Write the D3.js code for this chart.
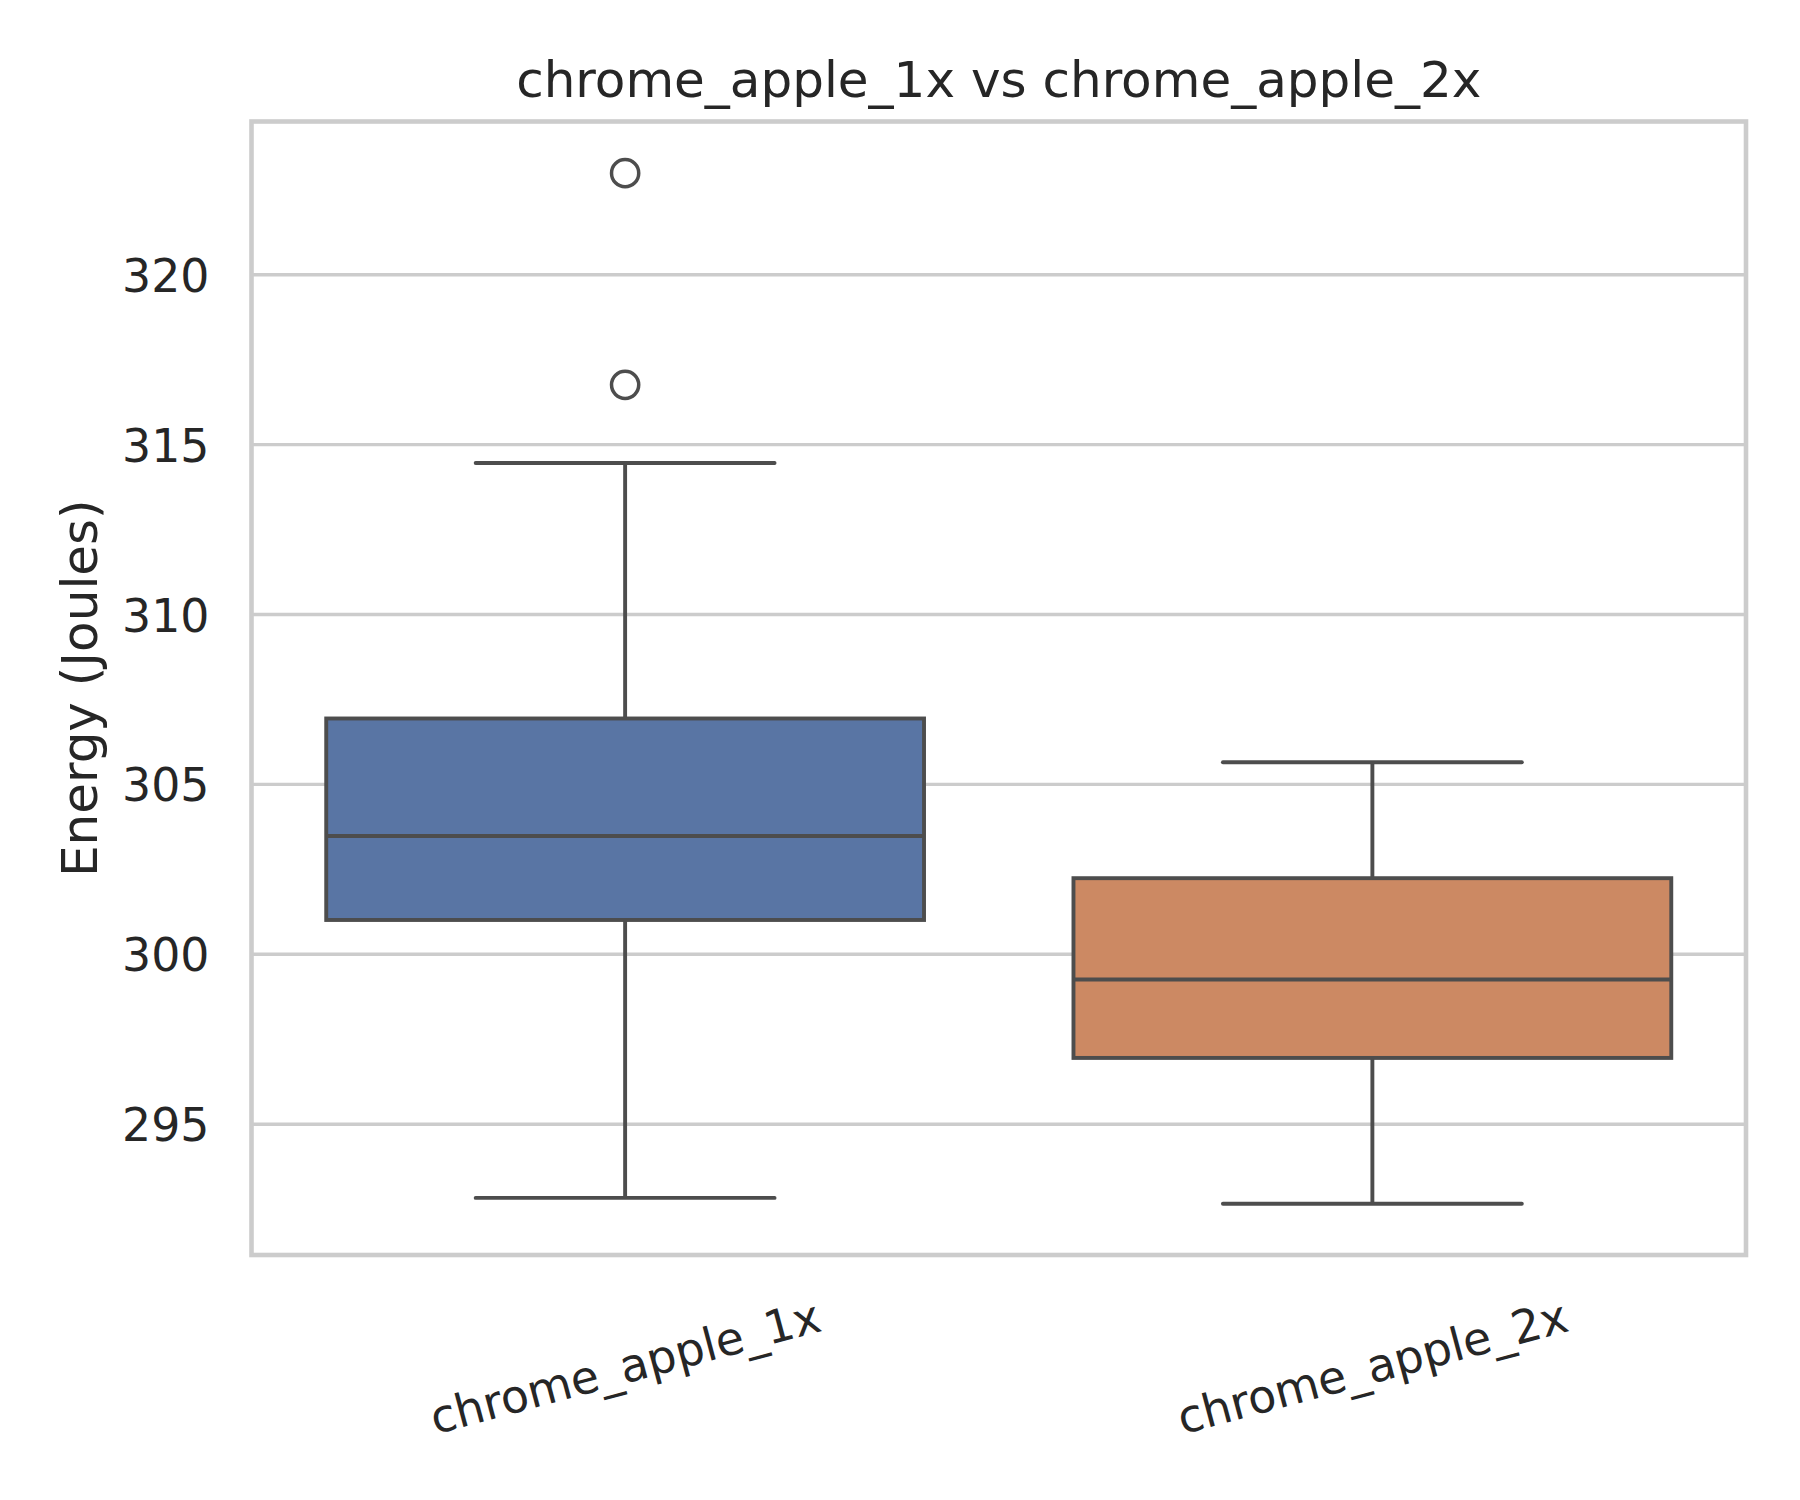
<!DOCTYPE html>
<html>
<head>
<meta charset="utf-8">
<script src="https://cdn.jsdelivr.net/npm/d3@7"></script>
<style>
  html, body { margin: 0; padding: 0; background: #ffffff; }
  svg { display: block; }
  text { font-family: "DejaVu Sans", sans-serif; fill: #262626; }
</style>
</head>
<body>
<script>
// ---- data ----
const categories   = ["chrome_apple_1x", "chrome_apple_2x"];
const whiskerLow   = [292.83, 292.66];
const q1           = [301.01, 296.95];
const medians      = [303.48, 299.26];
const q3           = [306.94, 302.24];
const whiskerHigh  = [314.46, 305.65];
const outliers     = [[316.76, 322.99], []];
const colors       = ["#5975a4", "#cc8963"];
const yTicks       = [295, 300, 305, 310, 315, 320];
const title        = "chrome_apple_1x vs chrome_apple_2x";
const yLabel       = "Energy (Joules)";

// ---- layout ----
const W = 1800, H = 1500;
const plot = { left: 251.5, right: 1746, top: 121.5, bottom: 1255 };
const lineColor = "#4d4d4d";
const gridColor = "#cccccc";
const lw = 3.9;

const svg = d3.select("body").append("svg").attr("width", W).attr("height", H);

const x = d3.scaleBand().domain(categories).range([plot.left, plot.right]).padding(0);
const y = d3.scaleLinear().domain([291.15, 324.51]).range([plot.bottom, plot.top]);

// grid
svg.append("g").selectAll("line").data(yTicks).join("line")
  .attr("x1", plot.left).attr("x2", plot.right)
  .attr("y1", d => y(d)).attr("y2", d => y(d))
  .attr("stroke", gridColor).attr("stroke-width", 3.4);

// y axis tick labels via d3 axis
const yAxis = d3.axisLeft(y).tickValues(yTicks).tickSize(0).tickPadding(42).tickFormat(d3.format("d"));
const yg = svg.append("g").attr("transform", `translate(${plot.left},0)`).call(yAxis);
yg.select(".domain").remove();
yg.selectAll("text").style("font-size", "45.8px").attr("fill", "#262626")
  .style("font-family", '"DejaVu Sans", sans-serif').attr("dy", "0.36em");

// boxes
const bw = x.bandwidth();
const boxW = bw * 0.8, capW = bw * 0.4;
const g = svg.append("g");
categories.forEach((c, i) => {
  const cx = x(c) + bw / 2;
  // whiskers
  g.append("line").attr("x1", cx).attr("x2", cx).attr("y1", y(q3[i])).attr("y2", y(whiskerHigh[i]))
    .attr("stroke", lineColor).attr("stroke-width", lw);
  g.append("line").attr("x1", cx).attr("x2", cx).attr("y1", y(q1[i])).attr("y2", y(whiskerLow[i]))
    .attr("stroke", lineColor).attr("stroke-width", lw);
  // caps
  [whiskerHigh[i], whiskerLow[i]].forEach(v => {
    g.append("line").attr("x1", cx - capW / 2).attr("x2", cx + capW / 2)
      .attr("y1", y(v)).attr("y2", y(v))
      .attr("stroke", lineColor).attr("stroke-width", lw).attr("stroke-linecap", "round");
  });
  // box
  g.append("rect").attr("x", cx - boxW / 2).attr("width", boxW)
    .attr("y", y(q3[i])).attr("height", y(q1[i]) - y(q3[i]))
    .attr("fill", colors[i]).attr("stroke", lineColor).attr("stroke-width", lw);
  // median
  g.append("line").attr("x1", cx - boxW / 2).attr("x2", cx + boxW / 2)
    .attr("y1", y(medians[i])).attr("y2", y(medians[i]))
    .attr("stroke", lineColor).attr("stroke-width", lw);
  // outliers
  g.selectAll(null).data(outliers[i]).join("circle")
    .attr("cx", cx).attr("cy", d => y(d)).attr("r", 13.6)
    .attr("fill", "none").attr("stroke", lineColor).attr("stroke-width", 3.5);
});

// frame
svg.append("rect").attr("x", plot.left).attr("y", plot.top)
  .attr("width", plot.right - plot.left).attr("height", plot.bottom - plot.top)
  .attr("fill", "none").attr("stroke", gridColor).attr("stroke-width", 4.6);

// x tick labels (rotated)
svg.append("g").selectAll("text").data(categories).join("text")
  .attr("transform", d => `translate(${x(d) + bw / 2},1367) rotate(-15)`)
  .attr("text-anchor", "middle").attr("dominant-baseline", "central")
  .style("font-size", "45.8px").text(d => d);

// title
svg.append("text").attr("x", (plot.left + plot.right) / 2).attr("y", 97)
  .attr("text-anchor", "middle").style("font-size", "50px").text(title);

// y label
svg.append("text").attr("transform", `translate(97,${(plot.top + plot.bottom) / 2}) rotate(-90)`)
  .attr("text-anchor", "middle").style("font-size", "50px").text(yLabel);
</script>
</body>
</html>
